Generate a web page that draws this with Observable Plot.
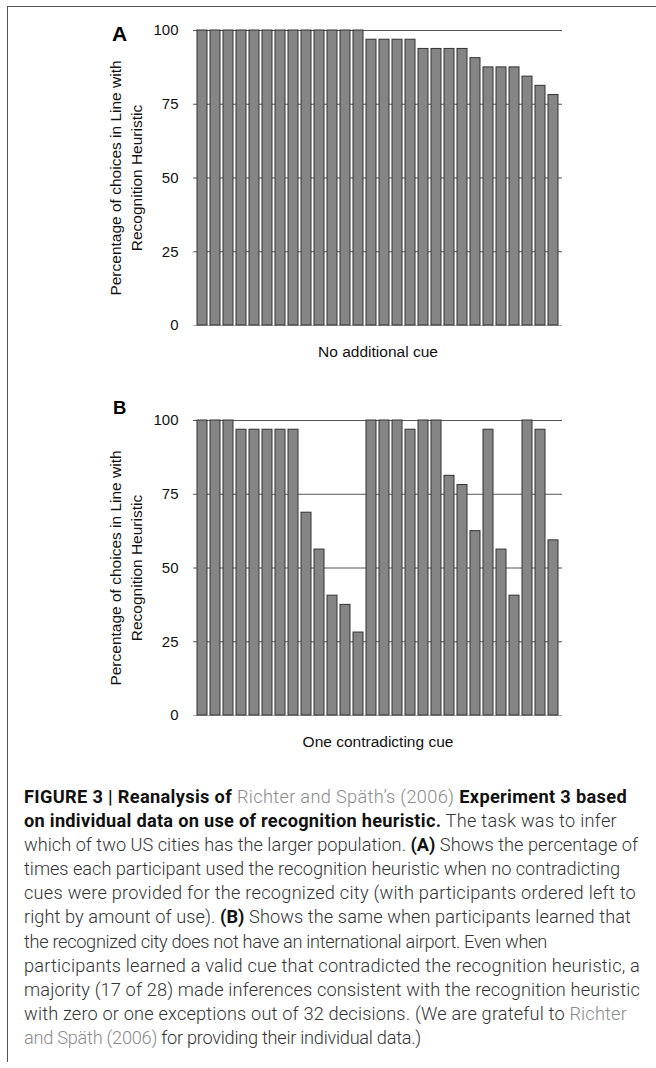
<!DOCTYPE html>
<html><head><meta charset="utf-8">
<script src="https://cdn.jsdelivr.net/npm/d3@7"></script>
<script src="https://cdn.jsdelivr.net/npm/@observablehq/plot@0.6"></script>
<style>
body{margin:0;background:#fff;width:656px;height:1068px;position:relative;overflow:hidden;font-family:"Liberation Sans",Arial,sans-serif}
#frame{position:absolute;left:7px;top:6px;width:660px;height:1056px;border-top:1.5px solid #555;border-left:1.5px solid #555;box-sizing:border-box}
.panel{position:absolute;left:0}
.plab{position:absolute;font-weight:bold;line-height:1;color:#000;font-family:"Liberation Sans",Arial,sans-serif}
#caption{position:absolute;left:24px;top:785px;font-family:Roboto,"Liberation Sans",sans-serif;font-weight:300;color:#333;font-size:16.5px;line-height:24.1px;white-space:nowrap}
#caption b{font-weight:700;color:#111}
#caption .lk{color:#8a8a8a}
#caption div{display:block}
#caption span.ln{display:inline-block}
</style></head>
<body>
<div id="frame"></div>
<div id="panelA" class="panel" style="top:0"></div>
<div id="panelB" class="panel" style="top:390px"></div>
<div class="plab" style="left:112px;top:23px;font-size:21px">A</div>
<div class="plab" style="left:113px;top:399px;font-size:18.5px">B</div>
<div id="caption"></div>
<script>
// ---- data ----
const participants = [1,2,3,4,5,6,7,8,9,10,11,12,13,14,15,16,17,18,19,20,21,22,23,24,25,26,27,28];
const valuesA = [100,100,100,100,100,100,100,100,100,100,100,100,100,
  96.875,96.875,96.875,96.875,93.75,93.75,93.75,93.75,90.625,87.5,87.5,87.5,84.375,81.25,78.125];
const valuesB = [100,100,100,96.875,96.875,96.875,96.875,96.875,68.75,56.25,40.625,37.5,28.125,
  100,100,100,96.875,100,100,81.25,78.125,62.5,96.875,56.25,40.625,100,96.875,59.375];
const yTicks = [0,25,50,75,100];
const gridTicks = [25,50,75,100];
const yLabelLine1 = ["Percentage of choices in Line with"];
const yLabelLine2 = ["Recognition Heuristic"];
const xLabelA = ["No additional cue"];
const xLabelB = ["One contradicting cue"];

function panel(values, xLabel) {
  const data = participants.map((p, i) => ({p, v: values[i]}));
  return Plot.plot({
    width: 656, height: 370,
    marginLeft: 193, marginRight: 94, marginTop: 30, marginBottom: 45,
    style: {fontFamily: "Liberation Sans, Arial, sans-serif", fontSize: "15px", color: "#111", background: "transparent", overflow: "visible"},
    x: {type: "band", domain: participants, padding: 0.2, paddingOuter: 0.05, axis: null},
    y: {domain: [0, 100], ticks: yTicks, tickSize: 0, tickPadding: 15, label: null, tickFormat: d => String(d)},
    marks: [
      Plot.ruleY(gridTicks, {stroke: "#555", strokeWidth: 1}),
      Plot.ruleY([0], {stroke: "#aaa", strokeWidth: 1}),
      Plot.barY(data, {x: "p", y: "v", fill: "#858585", stroke: "#333", strokeWidth: 1}),
      Plot.text(yLabelLine1, {frameAnchor: "left", dx: -77, rotate: -90, fontSize: 15.5, textAnchor: "middle", lineAnchor: "middle", fill: "#111"}),
      Plot.text(yLabelLine2, {frameAnchor: "left", dx: -56, rotate: -90, fontSize: 15.5, textAnchor: "middle", lineAnchor: "middle", fill: "#111"}),
      Plot.text(xLabel, {frameAnchor: "bottom", dy: 27, fontSize: 15.5, lineAnchor: "middle", fill: "#111"})
    ]
  });
}
document.getElementById("panelA").appendChild(panel(valuesA, xLabelA));
document.getElementById("panelB").appendChild(panel(valuesB, xLabelB));

// ---- caption ----
const captionLines = [
  '<b>FIGURE 3 | Reanalysis of </b><span class="lk">Richter and Späth’s (2006)</span><b> Experiment 3 based</b>',
  '<b>on individual data on use of recognition heuristic.</b> The task was to infer',
  'which of two US cities has the larger population. <b>(A)</b> Shows the percentage of',
  'times each participant used the recognition heuristic when no contradicting',
  'cues were provided for the recognized city (with participants ordered left to',
  'right by amount of use). <b>(B)</b> Shows the same when participants learned that',
  'the recognized city does not have an international airport. Even when',
  'participants learned a valid cue that contradicted the recognition heuristic, a',
  'majority (17 of 28) made inferences consistent with the recognition heuristic',
  'with zero or one exceptions out of 32 decisions. (We are grateful to <span class="lk">Richter</span>',
  '<span class="lk">and Späth (2006)</span> for providing their individual data.)'
];
const captionRight = [627, 617, 638, 620, 636, 631, 547, 640, 640, 627, 421];
const cap = document.getElementById("caption");
cap.innerHTML = captionLines.map(l => '<div><span class="ln">' + l + '</span></div>').join("");
const spans = cap.querySelectorAll("span.ln");
const w3 = spans[2].getBoundingClientRect().width;
const fs = 16.5 * (captionRight[2] - 24) / w3;
cap.style.fontSize = fs.toFixed(2) + "px";
spans.forEach((s, i) => {
  const w = s.getBoundingClientRect().width;
  const n = s.textContent.length;
  let ls = ((captionRight[i] - 24) - w) / n;
  ls = Math.max(-0.5, Math.min(0.5, ls));
  s.style.letterSpacing = ls.toFixed(3) + "px";
});
</script>
</body></html>
